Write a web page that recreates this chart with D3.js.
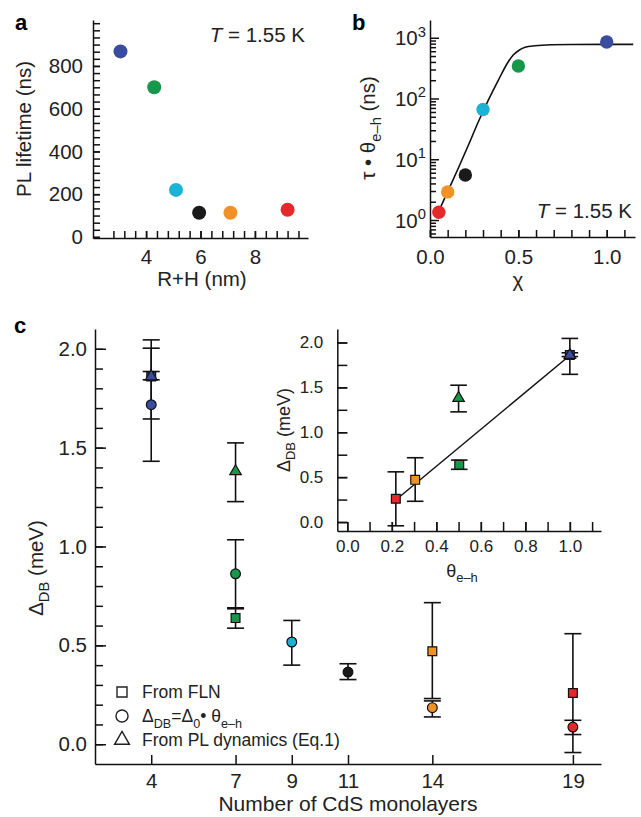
<!DOCTYPE html>
<html>
<head>
<meta charset="utf-8">
<script src="https://cdn.jsdelivr.net/npm/d3@7"></script>
<style>
  body { margin: 0; background: #fff; }
  svg { font-family: "Liberation Sans", Arial, Helvetica, sans-serif; }
</style>
</head>
<body>
<svg id="fig" width="641" height="817"></svg>
<script>
// sample colours, same order everywhere: 4, 7, 9, 11, 14, 19 monolayers
var dotColors = ['#3a4c9f', '#17974a', '#1ab3d3', '#1a1a1a', '#f29226', '#e4282c'];

// panel a
var rhNm = [3.06, 4.3, 5.1, 5.95, 7.1, 9.2];
var plLifetime = [868, 700, 220, 113, 113, 127];

// panel b
var chi = [1.0, 0.5, 0.3, 0.2, 0.1, 0.05];
var tauTheta = [850, 342, 66, 5.5, 2.9, 1.34];
var fitChi = [0.047, 0.104, 0.16, 0.217, 0.273, 0.33, 0.387, 0.443, 0.471, 0.5, 0.538, 0.594, 0.689, 0.8, 1.0, 1.15];
var fitTau = [1.35, 3.1, 7.1, 17, 41, 94, 201, 403, 519, 611, 695, 738, 767, 775, 777, 777];

// panel c, main
var monolayers = [4, 7, 9, 11, 14, 19];
var circleVal = [1.717, 0.862, 0.517, 0.365, 0.185, 0.087];
var circleLo  = [1.431, 0.685, 0.400, 0.327, 0.138, 0.049];
var circleHi  = [2.003, 1.034, 0.626, 0.407, 0.219, 0.121];
var flnIdx = [0, 1, 4, 5];
var flnVal = [1.86, 0.638, 0.47, 0.259];
var flnLo  = [1.843, 0.587, 0.231, -0.042];
var flnHi  = [1.885, 0.690, 0.716, 0.559];
var plIdx = [0, 1];
var plVal = [1.86, 1.38];
var plLo  = [1.645, 1.227];
var plHi  = [2.045, 1.524];

// panel c, inset (vs theta)
var thetaFln = [1.0, 0.503, 0.305, 0.218];
var thetaPl = [1.0, 0.5];
var insetFitTheta = [0.215, 0.99];
var insetFitVal = [0.24, 1.835];

var svg = d3.select('#fig');
var FS = 20.5;

function rich(textSel, parts, fs) {
  // parts: [string, 'sub'|'sup'|undefined, italic]
  var cur = 0;
  parts.forEach(function(p) {
    var target = p[1] === 'sub' ? fs * 0.3 : (p[1] === 'sup' ? -fs * 0.42 : 0);
    var ts = textSel.append('tspan').text(p[0]).attr('dy', target - cur);
    if (p[1]) ts.attr('font-size', fs * 0.72);
    if (p[2]) ts.attr('font-style', 'italic');
    cur = target;
  });
}

function styleAxis(g, fs) {
  g.attr('font-family', null).attr('font-size', fs);
  g.selectAll('path, line').attr('stroke', '#111').attr('stroke-width', 1.5);
  g.selectAll('text').attr('fill', '#222');
}

function axisPair(kind, scale, pos, minorVals, majorVals, fmt, minorLen, majorLen, pad, fs) {
  var mk = kind === 'bottom' ? d3.axisBottom : d3.axisLeft;
  var tr = kind === 'bottom' ? 'translate(0,' + pos + ')' : 'translate(' + pos + ',0)';
  var g1 = svg.append('g').attr('transform', tr)
    .call(mk(scale).tickValues(minorVals).tickSizeInner(-minorLen).tickSizeOuter(0).tickFormat(''));
  styleAxis(g1, fs);
  var g2 = svg.append('g').attr('transform', tr)
    .call(mk(scale).tickValues(majorVals).tickSizeInner(-majorLen).tickSizeOuter(0).tickPadding(pad).tickFormat(fmt));
  styleAxis(g2, fs);
  g2.select('.domain').remove();
  return g2;
}

function panelLabel(t, x, y) {
  svg.append('text').attr('x', x).attr('y', y).attr('font-size', 22).attr('font-weight', 'bold').text(t);
}

// ---------- panel a ----------
var xA = d3.scaleLinear().domain([2.05, 9.95]).range([93, 308]);
var yA = d3.scaleLinear().domain([-5, 1015]).range([238, 20]);

axisPair('bottom', xA, 238, d3.range(2.8, 9.7, 0.4), [4, 6, 8], d3.format('d'), 7, 7, 11, FS);
axisPair('left', yA, 93, d3.range(0, 1001, 200 / 6), [0, 200, 400, 600, 800], d3.format('d'), 7, 7, 10, FS);

svg.append('g').selectAll('circle')
  .data(rhNm)
  .enter()
  .append('circle')
  .attr('cx', function(d) { return xA(d); })
  .attr('cy', function(d, i) { return yA(plLifetime[i]); })
  .attr('r', 7)
  .attr('fill', function(d, i) { return dotColors[i]; });

svg.append('text').attr('x', 202).attr('y', 286).attr('text-anchor', 'middle').attr('font-size', FS).attr('fill', '#222').text('R+H (nm)');
svg.append('text').attr('transform', 'translate(31,129) rotate(-90)').attr('text-anchor', 'middle').attr('font-size', FS).attr('fill', '#222').text('PL lifetime (ns)');
var tA = svg.append('text').attr('x', 305).attr('y', 42).attr('text-anchor', 'end').attr('font-size', FS).attr('fill', '#222');
rich(tA, [['T', null, true], [' = 1.55 K']], FS);
panelLabel('a', 15, 30);

// ---------- panel b ----------
var xB = d3.scaleLinear().domain([0, 1.16]).range([430, 635]);
var yB = d3.scaleLog().domain([0.525, 1960]).range([237, 20]);

axisPair('bottom', xB, 237, d3.range(0, 1.15, 0.1), [0, 0.5, 1.0], d3.format('.1f'), 7, 7, 12, FS);
var logMinor = [];
[0.1, 1, 10, 100, 1000].forEach(function(dec) {
  for (var k = 2; k <= 9; k++) {
    var v = dec * k;
    if (v > 0.525 && v < 1960) logMinor.push(v);
  }
});
axisPair('left', yB, 430, logMinor, [1, 10, 100, 1000], '', 6, 9, 6, FS);
[0, 1, 2, 3].forEach(function(e) {
  var t = svg.append('text').attr('x', 426).attr('y', yB(Math.pow(10, e)) + 7.5)
    .attr('text-anchor', 'end').attr('font-size', FS).attr('fill', '#222');
  rich(t, [['10'], [String(e), 'sup']], FS);
});

var fitLine = d3.line()
  .x(function(d) { return xB(d[0]); })
  .y(function(d) { return yB(d[1]); })
  .curve(d3.curveMonotoneX);
svg.append('path')
  .datum(fitChi.map(function(c, i) { return [c, fitTau[i]]; }))
  .attr('d', fitLine)
  .attr('fill', 'none')
  .attr('stroke', '#111')
  .attr('stroke-width', 1.6);

svg.append('g').selectAll('circle')
  .data(chi)
  .enter()
  .append('circle')
  .attr('cx', function(d) { return xB(d); })
  .attr('cy', function(d, i) { return yB(tauTheta[i]); })
  .attr('r', 6.7)
  .attr('fill', function(d, i) { return dotColors[i]; });

svg.append('text').attr('x', 518).attr('y', 287).attr('text-anchor', 'middle').attr('font-size', FS).attr('fill', '#222').text('χ');
var tB = svg.append('text').attr('transform', 'translate(375,128) rotate(-90)').attr('text-anchor', 'middle').attr('font-size', FS).attr('fill', '#222');
rich(tB, [['τ • θ'], ['e–h', 'sub'], [' (ns)']], FS);
var tB2 = svg.append('text').attr('x', 632).attr('y', 218).attr('text-anchor', 'end').attr('font-size', FS).attr('fill', '#222');
rich(tB2, [['T', null, true], [' = 1.55 K']], FS);
panelLabel('b', 352, 30);

// ---------- panel c ----------
var xC = d3.scaleLinear().domain([2, 20]).range([95, 601]);
var yC = d3.scaleLinear().domain([-0.1, 2.1]).range([764, 329]);

axisPair('bottom', xC, 764, [], monolayers, d3.format('d'), 9, 9, 9, FS);
axisPair('left', yC, 95, d3.range(0, 2.05, 0.1), [0, 0.5, 1.0, 1.5, 2.0], d3.format('.1f'), 8, 11, 8, FS);

function errorBars(g, xs, lo, hi, xScale, yScale, half) {
  var eb = g.append('g').attr('stroke', '#111').attr('stroke-width', 1.6);
  xs.forEach(function(x, i) {
    var px = xScale(x);
    eb.append('line').attr('x1', px).attr('x2', px).attr('y1', yScale(lo[i])).attr('y2', yScale(hi[i]));
    [lo[i], hi[i]].forEach(function(v) {
      eb.append('line').attr('x1', px - half).attr('x2', px + half).attr('y1', yScale(v)).attr('y2', yScale(v));
    });
  });
}

function markers(g, type, xs, vals, cols, xScale, yScale, size) {
  g.append('g').selectAll('path')
    .data(xs)
    .enter()
    .append('path')
    .attr('transform', function(d, i) { return 'translate(' + xScale(d) + ',' + yScale(vals[i]) + ')'; })
    .attr('d', d3.symbol().type(type).size(size))
    .attr('fill', function(d, i) { return cols[i]; })
    .attr('stroke', '#111')
    .attr('stroke-width', 1.2);
}

var gc = svg.append('g');
var flnN = flnIdx.map(function(i) { return monolayers[i]; });
var plN = plIdx.map(function(i) { return monolayers[i]; });
errorBars(gc, monolayers, circleLo, circleHi, xC, yC, 8.5);
errorBars(gc, flnN, flnLo, flnHi, xC, yC, 8.5);
errorBars(gc, plN, plLo, plHi, xC, yC, 8.5);
markers(gc, d3.symbolSquare, flnN, flnVal, flnIdx.map(function(i) { return dotColors[i]; }), xC, yC, 78);
markers(gc, d3.symbolCircle, monolayers, circleVal, dotColors, xC, yC, 75);
markers(gc, d3.symbolTriangle, plN, plVal, plIdx.map(function(i) { return dotColors[i]; }), xC, yC, 58);

svg.append('text').attr('x', 348).attr('y', 811).attr('text-anchor', 'middle').attr('font-size', FS + 0.5).attr('fill', '#222').text('Number of CdS monolayers');
var tC = svg.append('text').attr('transform', 'translate(43,568) rotate(-90)').attr('text-anchor', 'middle').attr('font-size', FS).attr('fill', '#222');
rich(tC, [['Δ'], ['DB', 'sub'], [' (meV)']], FS);
panelLabel('c', 14, 333);

// legend
var LFS = 17.5;
var lg = svg.append('g');
var legendRows = [
  { sym: d3.symbolSquare, size: 100, y: 692, parts: [['From FLN']] },
  { sym: d3.symbolCircle, size: 115, y: 716, parts: [['Δ'], ['DB', 'sub'], ['=Δ'], ['0', 'sub'], ['• θ'], ['e–h', 'sub']] },
  { sym: d3.symbolTriangle, size: 95, y: 740, parts: [['From PL dynamics (Eq.1)']] }
];
legendRows.forEach(function(r) {
  lg.append('path').attr('transform', 'translate(122,' + r.y + ')')
    .attr('d', d3.symbol().type(r.sym).size(r.size))
    .attr('fill', 'none').attr('stroke', '#222').attr('stroke-width', 1.4);
  var t = lg.append('text').attr('x', 142).attr('y', r.y + 6.3).attr('font-size', LFS).attr('fill', '#222');
  rich(t, r.parts, LFS);
});

// ---------- inset ----------
var IFS = 17;
var xI = d3.scaleLinear().domain([-0.045, 1.14]).range([337.3, 601]);
var yI = d3.scaleLinear().domain([-0.1, 2.15]).range([531, 329]);

axisPair('bottom', xI, 531, d3.range(0, 1.15, 0.1), [0, 0.2, 0.4, 0.6, 0.8, 1.0], d3.format('.1f'), 9, 9, 9, IFS);
axisPair('left', yI, 337.3, d3.range(0, 2.01, 0.25), [0, 0.5, 1.0, 1.5, 2.0], d3.format('.1f'), 10, 10, 14, IFS);

svg.append('line')
  .attr('x1', xI(insetFitTheta[0])).attr('y1', yI(insetFitVal[0]))
  .attr('x2', xI(insetFitTheta[1])).attr('y2', yI(insetFitVal[1]))
  .attr('stroke', '#111').attr('stroke-width', 1.5);

var gi = svg.append('g');
errorBars(gi, thetaFln, flnLo, flnHi, xI, yI, 8.3);
errorBars(gi, thetaPl, plLo, plHi, xI, yI, 8.3);
markers(gi, d3.symbolSquare, thetaFln, flnVal, flnIdx.map(function(i) { return dotColors[i]; }), xI, yI, 78);
markers(gi, d3.symbolTriangle, thetaPl, plVal, plIdx.map(function(i) { return dotColors[i]; }), xI, yI, 58);

var tI = svg.append('text').attr('x', 462).attr('y', 577).attr('text-anchor', 'middle').attr('font-size', IFS + 1).attr('fill', '#222');
rich(tI, [['θ'], ['e–h', 'sub']], IFS + 1);
var tI2 = svg.append('text').attr('transform', 'translate(290,430) rotate(-90)').attr('text-anchor', 'middle').attr('font-size', IFS + 1).attr('fill', '#222');
rich(tI2, [['Δ'], ['DB', 'sub'], [' (meV)']], IFS + 1);
</script>
</body>
</html>
